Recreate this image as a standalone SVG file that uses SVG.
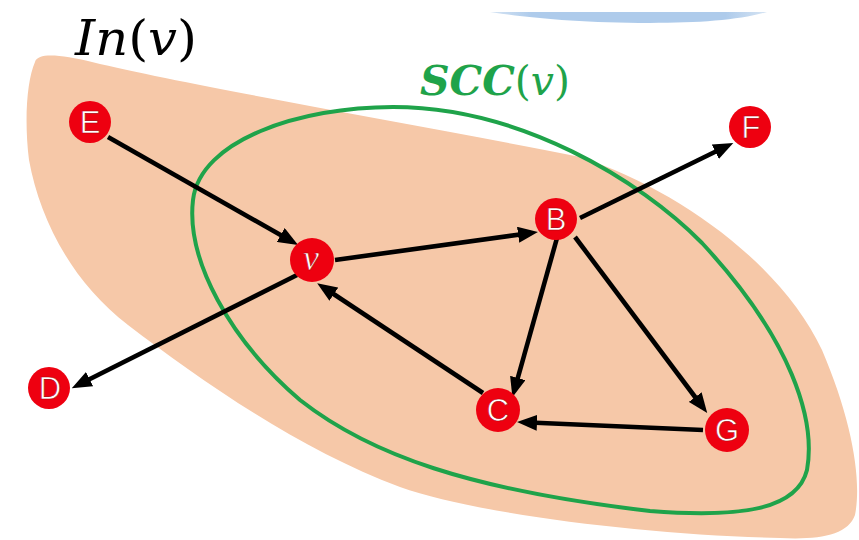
<svg xmlns="http://www.w3.org/2000/svg" width="859" height="540" viewBox="0 0 859 540">
  <defs>
    <marker id="arrow" markerUnits="userSpaceOnUse" markerWidth="20" markerHeight="16" refX="13" refY="8" orient="auto">
      <path d="M0,0 L20,8 L0,16 Z" fill="#000"/>
    </marker>
    <linearGradient id="sky" x1="0" y1="0" x2="1" y2="0">
      <stop offset="0" stop-color="#d6e4f3"/>
      <stop offset="0.15" stop-color="#aecbeb"/>
      <stop offset="0.85" stop-color="#aecbeb"/>
      <stop offset="1" stop-color="#d6e4f3"/>
    </linearGradient>
  </defs>
  <style>
    .edge { stroke: #000; stroke-width: 4.6; fill: none; marker-end: url(#arrow); }
    .node circle { fill: #ee0010; }
    .node text { font-family: "Liberation Sans", Arial, sans-serif; font-size: 31px; fill: #fff; stroke: #b0000a; stroke-width: 0.6; text-anchor: middle; }
    .node text.var { font-family: "Liberation Serif", "Times New Roman", serif; font-style: italic; font-size: 36px; }
    .label { font-family: "DejaVu Serif", "Liberation Serif", serif; }
  </style>

  <rect width="859" height="540" fill="#fff"/>

  <!-- partial light-blue shape at the top edge -->
  <path d="M490,12 L767,12 C740,20 700,23 650,23 C580,23 530,18 490,12 Z" fill="url(#sky)"/>

  <!-- In(v) region -->
  <path id="in-region" d="M35,62 C38,52 62,55 92,62 C200,88 420,125 580,157 C680,190 782,265 822,350 C852,420 862,480 855,515 C848,535 820,540 780,538 C650,535 480,515 400,487 C300,450 200,380 128,325 C72,282 40,220 29,160 C24,120 27,80 35,62 Z" fill="#f6c8a8"/>

  <!-- SCC(v) loop -->
  <path id="scc-loop" d="M393,107 C300,107 200,140 193,200 C186,260 230,340 300,400 C370,455 470,490 650,511 C740,518 797,510 807,470 C816,420 792,340 702,243 C640,180 520,107 393,107 Z" fill="none" stroke="#1fa34a" stroke-width="4"/>

  <text class="label" x="75" y="55" font-size="48" fill="#000" textLength="122" lengthAdjust="spacingAndGlyphs"><tspan font-style="italic">In</tspan><tspan>(</tspan><tspan font-style="italic">v</tspan><tspan>)</tspan></text>
  <text class="label" x="420" y="95" font-size="41" fill="#1fa34a" textLength="150" lengthAdjust="spacingAndGlyphs"><tspan font-style="italic" font-weight="bold">SCC</tspan><tspan>(</tspan><tspan font-style="italic">v</tspan><tspan>)</tspan></text>

  <g id="edges">
    <line class="edge" x1="108" y1="137" x2="292" y2="241.5"/>
    <line class="edge" x1="335" y1="260" x2="531" y2="233"/>
    <line class="edge" x1="580" y1="218" x2="727" y2="146"/>
    <line class="edge" x1="557" y1="238" x2="514.3" y2="390.5"/>
    <line class="edge" x1="575" y1="237" x2="703" y2="407.5"/>
    <line class="edge" x1="483" y1="393" x2="323" y2="287"/>
    <line class="edge" x1="703" y1="430" x2="524" y2="422.3"/>
    <line class="edge" x1="297" y1="275" x2="78" y2="385"/>
  </g>

  <g id="node-E" class="node"><circle cx="90" cy="122" r="21"/><text x="90" y="133">E</text></g>
  <g id="node-v" class="node"><circle cx="312" cy="260" r="22"/><text class="var" x="311" y="270">v</text></g>
  <g id="node-B" class="node"><circle cx="556" cy="219" r="21"/><text x="556" y="230">B</text></g>
  <g id="node-F" class="node"><circle cx="750" cy="127" r="21"/><text x="751" y="138">F</text></g>
  <g id="node-D" class="node"><circle cx="49" cy="388" r="21"/><text x="50" y="399">D</text></g>
  <g id="node-C" class="node"><circle cx="498" cy="410" r="22"/><text x="498" y="421">C</text></g>
  <g id="node-G" class="node"><circle cx="727" cy="430" r="22"/><text x="727" y="441">G</text></g>
</svg>
